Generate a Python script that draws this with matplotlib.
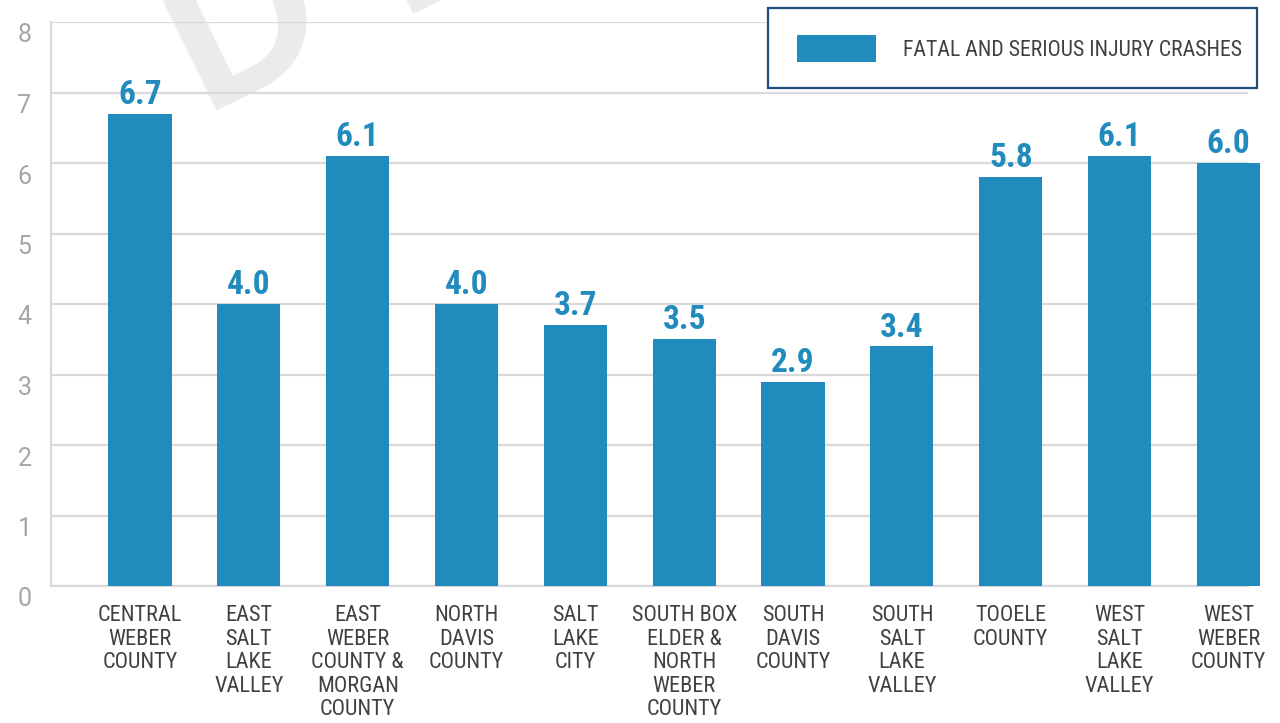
import matplotlib
matplotlib.use("Agg")
import matplotlib.pyplot as plt
import matplotlib.transforms as mtransforms
from matplotlib.patches import Rectangle
import numpy as np

# crash rates by area
regions = [
    "CENTRAL\nWEBER\nCOUNTY",
    "EAST\nSALT\nLAKE\nVALLEY",
    "EAST\nWEBER\nCOUNTY &\nMORGAN\nCOUNTY",
    "NORTH\nDAVIS\nCOUNTY",
    "SALT\nLAKE\nCITY",
    "SOUTH BOX\nELDER &\nNORTH\nWEBER\nCOUNTY",
    "SOUTH\nDAVIS\nCOUNTY",
    "SOUTH\nSALT\nLAKE\nVALLEY",
    "TOOELE\nCOUNTY",
    "WEST\nSALT\nLAKE\nVALLEY",
    "WEST\nWEBER\nCOUNTY",
]
crash_rates = [6.7, 4.0, 6.1, 4.0, 3.7, 3.5, 2.9, 3.4, 5.8, 6.1, 6.0]
series_name = "FATAL AND SERIOUS INJURY CRASHES"
y_ticks = [0, 1, 2, 3, 4, 5, 6, 7, 8]

bar_color = "#228bbe"
grid_color = "#d9d9d9"
narrow = ["Roboto Condensed", "DejaVu Sans"]

fig = plt.figure(figsize=(12.8, 7.23), dpi=100)
ax = fig.add_axes([51 / 1280, 137 / 723, (1248 - 51) / 1280, 564 / 723])
ax.patch.set_visible(False)

# faint draft watermark, behind the gridlines
fig.text(201 / 1280, 1 - 118 / 723, "D R A F T", rotation=26,
         rotation_mode="anchor", ha="left", va="baseline", fontsize=175,
         color="#ebebeb", family=["Roboto", "DejaVu Sans"], fontweight=500,
         zorder=-1)

x = np.arange(len(regions))
bars = ax.bar(x, crash_rates, width=0.58, color=bar_color, zorder=3,
              label=series_name, clip_on=False)

for xi, v in zip(x, crash_rates):
    ax.annotate(f"{v:.1f}", (xi, v), xytext=(0, 2), textcoords="offset points",
                ha="center", va="bottom", color=bar_color, fontsize=24,
                fontweight="bold", family=narrow, zorder=4)

ax.set_xlim(-0.818, 10.18)
ax.set_ylim(0, 8)
ax.set_yticks(y_ticks)
ax.set_yticklabels([str(t) for t in y_ticks], color="#a6a6a6", fontsize=18,
                   family=["Roboto", "DejaVu Sans"])
ax.tick_params(axis="y", length=0, pad=14)

ax.set_xticks(x)
ax.set_xticklabels(regions, fontsize=16, family=narrow, color="#404040",
                   linespacing=1.15)
ax.tick_params(axis="x", length=0, pad=14)

# y labels sit a little below their gridlines
offset = mtransforms.ScaledTranslation(0, -11 / 100, fig.dpi_scale_trans)
for lbl in ax.get_yticklabels():
    lbl.set_transform(lbl.get_transform() + offset)

ax.yaxis.grid(True, color=grid_color, linewidth=1.6, zorder=0)
ax.set_axisbelow(True)
for side in ["top", "right"]:
    ax.spines[side].set_visible(False)
for side in ["left", "bottom"]:
    ax.spines[side].set_color(grid_color)
    ax.spines[side].set_linewidth(1.6)

# outlined legend box, then the legend entry on top of it
box = Rectangle((768 / 1280, 1 - 88 / 723), (1257 - 768) / 1280, 80 / 723,
                transform=fig.transFigure, facecolor="white",
                edgecolor="#1f4e79", linewidth=1.6, zorder=4)
fig.add_artist(box)

leg = fig.legend(handles=[bars], labels=[series_name], loc="upper left",
                 bbox_to_anchor=(797 / 1280, 1 - 35 / 723),
                 bbox_transform=fig.transFigure, borderaxespad=0, borderpad=0,
                 prop={"family": narrow, "size": 15.7}, frameon=False,
                 handlelength=3.6, handleheight=1.52, handletextpad=1.25)
for t in leg.get_texts():
    t.set_color("#404040")
leg.set_zorder(5)

fig.savefig("out.png", dpi=100, facecolor="white")
